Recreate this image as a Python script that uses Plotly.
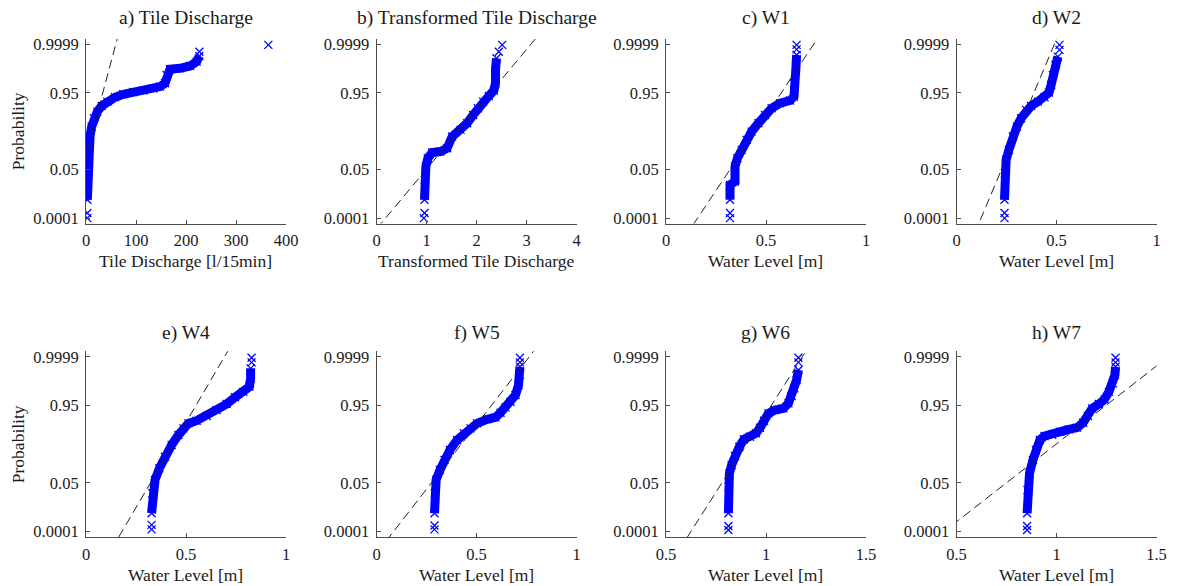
import plotly.graph_objects as go
from statistics import NormalDist

ND = NormalDist()

# ---------------- data ----------------
titles = ["a) Tile Discharge", "b) Transformed Tile Discharge", "c) W1", "d) W2",
          "e) W4", "f) W5", "g) W6", "h) W7"]
xlabels = ["Tile Discharge [l/15min]", "Transformed Tile Discharge", "Water Level [m]",
           "Water Level [m]", "Water Level [m]", "Water Level [m]", "Water Level [m]",
           "Water Level [m]"]

prob_ticks = [0.0001, 0.05, 0.95, 0.9999]
prob_tick_text = ["0.0001", "0.05", "0.95", "0.9999"]

x_ticks = [[0, 100, 200, 300, 400], [0, 1, 2, 3, 4], [0, 0.5, 1], [0, 0.5, 1],
           [0, 0.5, 1], [0, 0.5, 1], [0.5, 1, 1.5], [0.5, 1, 1.5]]
x_tick_text = [["0", "100", "200", "300", "400"], ["0", "1", "2", "3", "4"],
               ["0", "0.5", "1"], ["0", "0.5", "1"], ["0", "0.5", "1"], ["0", "0.5", "1"],
               ["0.5", "1", "1.5"], ["0.5", "1", "1.5"]]

# a) Tile Discharge
a_value = [2.7, 2.7, 2.7, 4, 5.3, 8, 11.3, 16, 22.7, 31.3, 42.7, 58, 74.7, 94.7, 114.7,
           134.7, 148, 158, 161.3, 168, 188, 208, 221.3, 226.7, 226.7, 364.7]
a_prob = [0.0001, 0.00023, 0.00166, 0.036, 0.174, 0.409, 0.578, 0.711, 0.799, 0.860,
          0.897, 0.927, 0.943, 0.9535, 0.9588, 0.9658, 0.9718, 0.9799, 0.99196, 0.996,
          0.99643, 0.99737, 0.99854, 0.99936, 0.99966, 0.99989]

# b) Transformed Tile Discharge
b_value = [0.947, 0.96, 0.96, 0.967, 0.987, 1.027, 1.113, 1.28, 1.413, 1.513, 1.68,
           1.813, 1.933, 2.027, 2.133, 2.247, 2.347, 2.38, 2.38, 2.40, 2.447, 2.513]
b_prob = [0.0001, 0.00023, 0.00166, 0.0188, 0.0652, 0.124, 0.1806, 0.192, 0.2336, 0.409,
          0.522, 0.634, 0.757, 0.837, 0.897, 0.934, 0.9587, 0.9799, 0.9956, 0.9991,
          0.99966, 0.99989]

# c) W1
c_value = [0.32, 0.32, 0.32, 0.32, 0.345, 0.345, 0.357, 0.378, 0.403, 0.428, 0.462,
           0.495, 0.528, 0.57, 0.62, 0.64, 0.64, 0.65, 0.653, 0.653, 0.653]
c_prob = [0.0001, 0.00023, 0.00166, 0.0108, 0.0156, 0.0651, 0.124, 0.212, 0.355, 0.493,
          0.634, 0.757, 0.837, 0.884, 0.905, 0.9306, 0.9799, 0.9971, 0.99944, 0.99977,
          0.99989]

# d) W2
d_value = [0.24, 0.24, 0.24, 0.242, 0.248, 0.262, 0.282, 0.302, 0.323, 0.348, 0.373,
           0.407, 0.44, 0.462, 0.473, 0.482, 0.495, 0.507, 0.515, 0.515]
d_prob = [0.0001, 0.00023, 0.00166, 0.0363, 0.11, 0.212, 0.409, 0.578, 0.711, 0.819,
          0.860, 0.897, 0.927, 0.9505, 0.976, 0.99196, 0.99771, 0.99929, 0.99975, 0.99989]

# e) W4
e_value = [0.328, 0.328, 0.328, 0.332, 0.345, 0.367, 0.395, 0.428, 0.462, 0.487, 0.512,
           0.553, 0.603, 0.653, 0.703, 0.745, 0.787, 0.817, 0.823, 0.823, 0.828, 0.828]
e_prob = [0.000147, 0.0003, 0.00166, 0.0184, 0.064, 0.153, 0.298, 0.486, 0.652, 0.75,
          0.812, 0.841, 0.885, 0.927, 0.956, 0.977, 0.987, 0.9928, 0.99745, 0.99937,
          0.99975, 0.99988]

# f) W5
f_value = [0.29, 0.29, 0.29, 0.292, 0.298, 0.317, 0.34, 0.367, 0.403, 0.437, 0.47, 0.503,
           0.553, 0.595, 0.62, 0.645, 0.67, 0.695, 0.71, 0.717, 0.717, 0.717, 0.717]
f_prob = [0.000147, 0.00027, 0.00166, 0.0184, 0.064, 0.1365, 0.251, 0.403, 0.571, 0.678,
          0.75, 0.812, 0.8548, 0.873, 0.91, 0.9413, 0.9646, 0.9817, 0.9941, 0.99836,
          0.9995, 0.99975, 0.99988]

# g) W6
g_value = [0.812, 0.812, 0.812, 0.813, 0.817, 0.828, 0.845, 0.867, 0.89, 0.92, 0.95, 0.97,
           0.99, 1.012, 1.045, 1.087, 1.112, 1.128, 1.142, 1.153, 1.162, 1.162, 1.162]
g_prob = [0.000133, 0.000254, 0.00166, 0.0355, 0.1075, 0.188, 0.3085, 0.458, 0.582,
          0.6255, 0.678, 0.758, 0.841, 0.905, 0.927, 0.936, 0.9588, 0.9798, 0.9912,
          0.99682, 0.99919, 0.99975, 0.99988]

# h) W7
h_value = [0.853, 0.853, 0.853, 0.855, 0.865, 0.882, 0.897, 0.917, 0.94, 0.978, 1.02,
           1.062, 1.103, 1.133, 1.157, 1.178, 1.212, 1.24, 1.262, 1.282, 1.292, 1.295,
           1.295, 1.295]
h_prob = [0.000133, 0.000254, 0.00166, 0.0258, 0.1075, 0.251, 0.403, 0.571, 0.636, 0.657,
          0.7026, 0.736, 0.759, 0.82, 0.885, 0.936, 0.956, 0.9717, 0.987, 0.99516,
          0.99836, 0.9995, 0.99975, 0.99988]

# reference (normal fit) lines: mean and standard deviation
line_mu = [13.05, 1.634, 0.448, 0.306, 0.436, 0.4245, 0.903, 0.998]
line_sigma = [12.49, 0.3907, 0.078, 0.0493, 0.069, 0.0913, 0.075, 0.151]

values = [a_value, b_value, c_value, d_value, e_value, f_value, g_value, h_value]
probs = [a_prob, b_prob, c_prob, d_prob, e_prob, f_prob, g_prob, h_prob]

# ---------------- layout geometry (pixels) ----------------
W, H = 1177, 586
col_left = [86, 376.5, 666, 956.5]
col_w = 200
row_top = [(38.9, 223.5), (351.3, 537.1)]
x_ranges = [[0, 400], [0, 4], [0, 1], [0, 1], [0, 1], [0, 1], [0.5, 1.5], [0.5, 1.5]]
Z_LIM = 3.95

FONT = "Liberation Serif, Times New Roman, serif"
TXT = "#1a1a1a"
AX = "#4d4d4d"
BLUE = "#0000ff"

fig = go.Figure()
annotations = []

ytickvals = [ND.inv_cdf(p) for p in prob_ticks]

for i in range(8):
    r, c = divmod(i, 4)
    xa = "x" if i == 0 else f"x{i+1}"
    ya = "y" if i == 0 else f"y{i+1}"
    z = [ND.inv_cdf(p) for p in probs[i]]
    v = values[i]
    # dense band of markers (drawn as thick line through inner points)
    fig.add_trace(go.Scatter(x=v[2:-2], y=z[2:-2], mode="lines",
                             line=dict(color=BLUE, width=9),
                             xaxis=xa, yaxis=ya, showlegend=False, hoverinfo="skip"))
    fig.add_trace(go.Scatter(x=v, y=z, mode="markers",
                             marker=dict(symbol="x-thin-open", size=8, color=BLUE,
                                         line=dict(color=BLUE, width=1.3)),
                             xaxis=xa, yaxis=ya, showlegend=False))
    # reference line
    zl = [-6, 6]
    fig.add_trace(go.Scatter(x=[line_mu[i] + line_sigma[i] * zz for zz in zl], y=zl,
                             mode="lines", line=dict(color="#222222", width=1,
                                                     dash="9px,5px"),
                             xaxis=xa, yaxis=ya, showlegend=False, hoverinfo="skip"))

    x0 = col_left[c] / W
    x1 = (col_left[c] + col_w) / W
    ytop, ybot = row_top[r]
    y0 = 1 - ybot / H
    y1 = 1 - ytop / H
    key = "" if i == 0 else str(i + 1)
    fig.update_layout(**{
        f"xaxis{key}": dict(domain=[x0, x1], range=x_ranges[i], anchor=ya,
                            tickvals=x_ticks[i], ticktext=x_tick_text[i],
                            ticks="inside", ticklen=4, tickcolor=AX, showline=True,
                            linecolor=AX, linewidth=1, showgrid=False, zeroline=False,
                            tickfont=dict(family=FONT, size=16.5, color=TXT),
                            ticklabelstandoff=2, automargin=False),
        f"yaxis{key}": dict(domain=[y0, y1], range=[-Z_LIM, Z_LIM], anchor=xa,
                            tickvals=ytickvals, ticktext=prob_tick_text,
                            ticks="inside", ticklen=4, tickcolor=AX, showline=True,
                            linecolor=AX, linewidth=1, showgrid=False, zeroline=False,
                            tickfont=dict(family=FONT, size=16.5, color=TXT),
                            ticklabelstandoff=3, automargin=False),
    })
    xc = (x0 + x1) / 2
    annotations.append(dict(text=titles[i], x=xc, y=1 - (18 if r == 0 else 333) / H,
                            xref="paper", yref="paper", showarrow=False,
                            xanchor="center", yanchor="middle",
                            font=dict(family=FONT, size=19.5, color=TXT)))
    annotations.append(dict(text=xlabels[i], x=xc, y=1 - (261 if r == 0 else 575) / H,
                            xref="paper", yref="paper", showarrow=False,
                            xanchor="center", yanchor="middle",
                            font=dict(family=FONT, size=17.5, color=TXT)))
    if c == 0:
        annotations.append(dict(text="Probability", x=18 / W,
                                y=1 - ((ytop + ybot) / 2) / H,
                                xref="paper", yref="paper", showarrow=False,
                                xanchor="center", yanchor="middle", textangle=-90,
                                font=dict(family=FONT, size=17.5, color=TXT)))

fig.update_layout(width=W, height=H, margin=dict(l=0, r=0, t=0, b=0, autoexpand=False),
                  paper_bgcolor="white", plot_bgcolor="white",
                  annotations=annotations)

fig.write_html("out.html")
